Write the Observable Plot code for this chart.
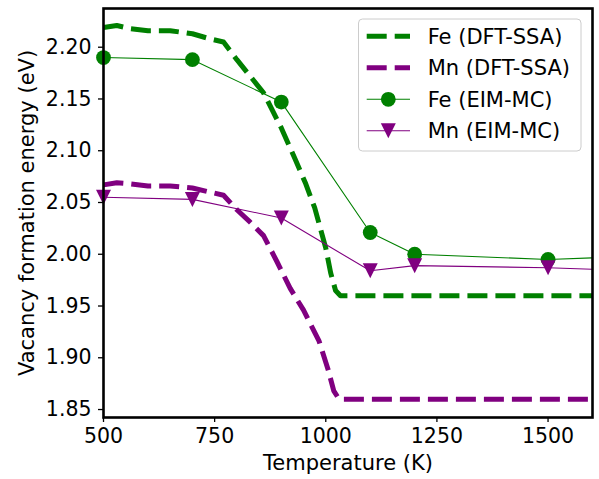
<!DOCTYPE html>
<html><head><meta charset="utf-8">
<script src="https://cdn.jsdelivr.net/npm/d3@7"></script>
<script src="https://cdn.jsdelivr.net/npm/@observablehq/plot@0.6"></script>
<style>body{margin:0;background:white;overflow:hidden;} #chart{position:relative;width:599px;height:479px;}</style>
</head><body><div id="chart"></div>
<script>
// DFT-SSA curves
const tFeDft = [500,530,560,600,650,700,740,770,800,830,860,880,900,930,955,975,1000,1011,1022,1033,1600];
const feDft  = [2.219,2.221,2.218,2.216,2.216,2.213,2.208,2.205,2.188,2.172,2.156,2.139,2.122,2.093,2.068,2.045,2.006,1.982,1.965,1.960,1.960];
const tMnDft = [500,530,560,600,650,700,740,770,800,830,860,890,920,950,985,1005,1018,1030,1600];
const mnDft  = [2.067,2.069,2.068,2.066,2.066,2.064,2.060,2.057,2.043,2.031,2.018,1.993,1.967,1.946,1.916,1.889,1.868,1.860,1.860];
// EIM-MC points
const tEim  = [500,700,900,1100,1200,1500,1800];
const feEim = [2.190,2.188,2.147,2.021,2.000,1.995,1.9995];
const mnEim = [2.055,2.053,2.035,1.984,1.989,1.987,1.9825];
// ticks and labels
const xTicks = [500,750,1000,1250,1500];
const yTicks = [1.85,1.90,1.95,2.00,2.05,2.10,2.15,2.20];
const xLabel = "Temperature (K)";
const yLabel = "Vacancy formation energy (eV)";
const legendLabels = ["Fe (DFT-SSA)","Mn (DFT-SSA)","Fe (EIM-MC)","Mn (EIM-MC)"];
const feColor = "#008000", mnColor = "#800080";

const rows = (t, v) => t.map((T, i) => ({T, E: v[i]}));
const feDftData = rows(tFeDft, feDft), mnDftData = rows(tMnDft, mnDft);
const feEimData = rows(tEim, feEim), mnEimData = rows(tEim, mnEim);

const triDown = {draw(ctx, size){ const s = Math.sqrt(size/Math.PI); ctx.moveTo(0, s); ctx.lineTo(-s, -s); ctx.lineTo(s, -s); ctx.closePath(); }};
const inFrame = d => d.T <= 1600;
const dashed = {strokeWidth: 5, strokeDasharray: "20,8", strokeLinejoin: "round", strokeLinecap: "butt", clip: true};

const chart = Plot.plot({
  width: 599, height: 479,
  marginLeft: 103, marginRight: 7, marginTop: 8, marginBottom: 62,
  style: {fontFamily: "DejaVu Sans", fontSize: "20.5px", color: "black", background: "white"},
  x: {domain: [500, 1600]},
  y: {domain: [1.8423, 2.2374]},
  marks: [
    Plot.line(feDftData, {x: "T", y: "E", stroke: feColor, ...dashed}),
    Plot.line(mnDftData, {x: "T", y: "E", stroke: mnColor, ...dashed}),
    Plot.line(feEimData, {x: "T", y: "E", stroke: feColor, strokeWidth: 1.1, clip: true}),
    Plot.dot(feEimData, {x: "T", y: "E", r: 7.4, fill: feColor, stroke: null, symbol: "circle", filter: inFrame}),
    Plot.line(mnEimData, {x: "T", y: "E", stroke: mnColor, strokeWidth: 1.1, clip: true}),
    Plot.dot(mnEimData, {x: "T", y: "E", r: 7.5, fill: mnColor, stroke: null, symbol: triDown, filter: inFrame}),
    Plot.axisX(xTicks, {tickSize: 5, tickPadding: 6, strokeWidth: 1.3, label: null, tickFormat: d => String(d)}),
    Plot.axisY(yTicks, {tickSize: 5, tickPadding: 7, strokeWidth: 1.3, label: null, tickFormat: d => d.toFixed(2)}),
    Plot.text([xLabel], {frameAnchor: "bottom", dy: 46, text: d => d, fontSize: 21, lineAnchor: "middle", textAnchor: "middle", fill: "black"}),
    Plot.text([yLabel], {frameAnchor: "left", dx: -76, text: d => d, fontSize: 21, rotate: -90, lineAnchor: "middle", textAnchor: "middle", fill: "black"}),
    Plot.frame({stroke: "black", strokeWidth: 2.6})
  ]
});
document.getElementById("chart").appendChild(chart);

// legend inside the axes (upper right)
const svg = d3.select(chart);
const lg = svg.append("g").attr("font-family", "DejaVu Sans").attr("font-size", 21).attr("text-anchor", "start");
lg.append("rect").attr("x", 358.5).attr("y", 19).attr("width", 222.5).attr("height", 132)
  .attr("rx", 4).attr("fill", "white").attr("fill-opacity", 0.8).attr("stroke", "#cccccc").attr("stroke-width", 1);
const styles = [
  {c: feColor, dash: true}, {c: mnColor, dash: true},
  {c: feColor, marker: "circle"}, {c: mnColor, marker: "tri"}
];
legendLabels.forEach((lab, i) => {
  const y = 36.3 + i * 31.5;
  const s = styles[i];
  const ln = lg.append("line").attr("x1", 366.7).attr("x2", 410).attr("y1", y).attr("y2", y).attr("stroke", s.c);
  if (s.dash) ln.attr("stroke-width", 5).attr("stroke-dasharray", "20,8");
  else ln.attr("stroke-width", 1.1);
  if (s.marker === "circle") lg.append("circle").attr("cx", 388.3).attr("cy", y).attr("r", 7.4).attr("fill", s.c);
  if (s.marker === "tri") lg.append("path").attr("d", d3.symbol(triDown, Math.PI * 7.5 * 7.5)()).attr("transform", `translate(388.3,${y})`).attr("fill", s.c);
  lg.append("text").attr("x", 427.7).attr("y", y).attr("dy", "0.35em").attr("text-anchor", "start").attr("fill", "black").text(lab);
});
</script>
</body></html>
